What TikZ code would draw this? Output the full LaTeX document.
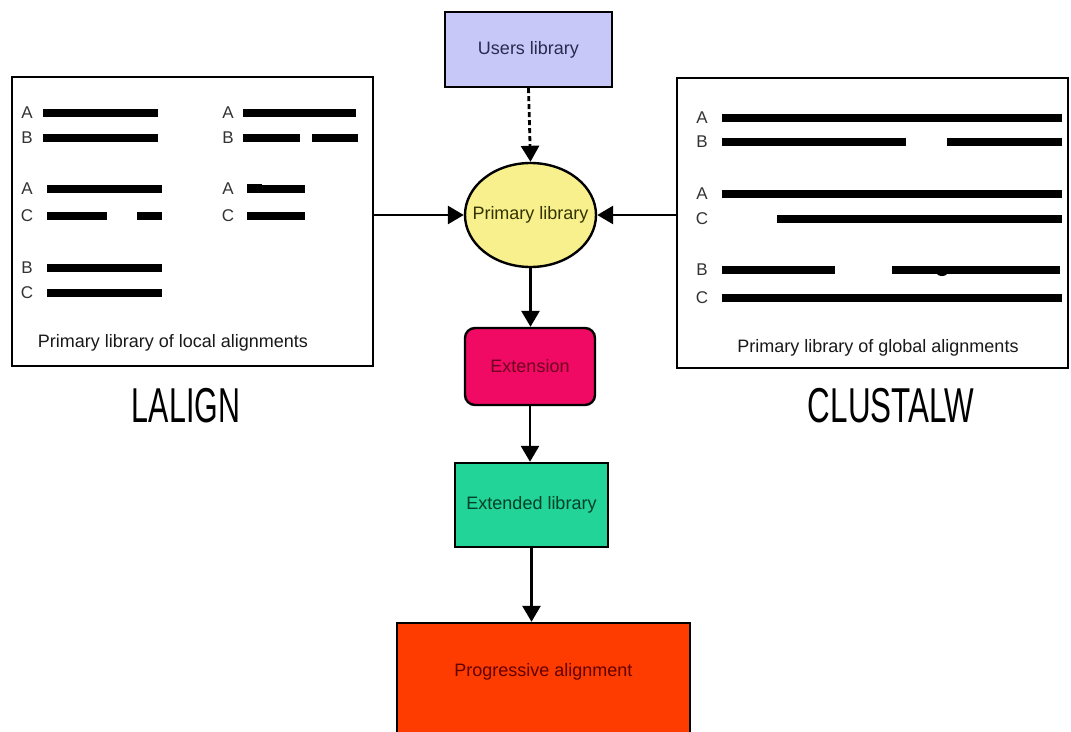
\documentclass[tikz,border=0pt]{standalone}
\usepackage{fontspec}
\setmainfont{Liberation Sans}
\usetikzlibrary{shapes.geometric,arrows.meta}

\definecolor{usersfill}{HTML}{C8C8F8}
\definecolor{usersink}{HTML}{2A2A50}
\definecolor{primfill}{HTML}{F8F08C}
\definecolor{primink}{HTML}{333300}
\definecolor{extnfill}{HTML}{F00A64}
\definecolor{extnink}{HTML}{700020}
\definecolor{extdfill}{HTML}{22D498}
\definecolor{extdink}{HTML}{004028}
\definecolor{progfill}{HTML}{FF3C00}
\definecolor{progink}{HTML}{600000}

\tikzset{
  box/.style={draw, line width=2.4pt, inner sep=0pt},
  arr/.style={line width=2.8pt, -{Triangle[width=18pt,length=16pt]}},
  bar/.style={line width=8pt},
  lbl/.style={font=\fontsize{18}{20}\selectfont, inner sep=0pt},
  seq/.style={font=\fontsize{17}{19}\selectfont, text=black!80, inner sep=0pt},
  big/.style={font=\fontsize{49}{55}\selectfont, inner sep=0pt},
}

\begin{document}
\begin{tikzpicture}[x=1pt,y=-1pt]
\clip (0,0) rectangle (1071,731);
\fill[white] (0,0) rectangle (1071,731);

% flow nodes
\node[box, fill=usersfill, minimum width=167pt, minimum height=75pt,
      text=usersink, lbl] (users) at (528.5,49.5) {Users library};
\node[box, ellipse, fill=primfill, minimum width=131pt, minimum height=104pt,
      label={[lbl, text=primink]center:Primary library}] (prim) at (530.5,215) {};
\node[box, fill=extnfill, rounded corners=10pt, minimum width=130pt,
      minimum height=77pt, text=extnink, lbl] (extn) at (530,366.5) {Extension};
\node[box, fill=extdfill, minimum width=153pt, minimum height=84pt,
      text=extdink, lbl] (extd) at (531.5,505) {Extended library};
\node[box, fill=progfill, minimum width=293pt, minimum height=130pt] (prog) at (543.5,688) {};
\node[lbl, text=progink] (progtxt) at ([yshift=-50pt]prog.north) {Progressive alignment};

% alignment libraries
\node[box, minimum width=361pt, minimum height=289pt] (lbox) at (192.5,221.5) {};
\node[box, minimum width=391pt, minimum height=290pt] (rbox) at (872.5,223) {};

% local alignments (left)
\foreach \y/\t in {113/A,138/B,189/A,216/C,268/B,293/C}
  \node[seq] (l\y) at (27,\y) {\t};
\foreach \y/\t in {113/A,138/B,189/A,216/C}
  \node[seq] (m\y) at (228,\y) {\t};
\draw[bar] (43,113) -- (158,113);
\draw[bar] (43,138) -- (158,138);
\draw[bar] (47,189) -- (162,189);
\draw[bar] (47,216) -- (107,216);
\draw[bar] (137,216) -- (162,216);
\draw[bar] (47,268) -- (162,268);
\draw[bar] (47,293) -- (162,293);
\draw[bar] (243,113) -- (356,113);
\draw[bar] (243,138) -- (300,138);
\draw[bar] (312,138) -- (358,138);
\draw[bar] (247,189) -- (305,189);
\fill (247,184) rectangle (262,190);
\draw[bar] (247,216) -- (305,216);
\node[lbl, text=black!90] (lcap) at (173,343) {Primary library of local alignments};

% global alignments (right)
\foreach \y/\t in {118/A,142/B,194/A,219/C,270/B,298/C}
  \node[seq] (r\y) at (702,\y) {\t};
\draw[bar] (722,118) -- (1062,118);
\draw[bar] (722,142) -- (906,142);
\draw[bar] (947,142) -- (1062,142);
\draw[bar] (722,194) -- (1062,194);
\draw[bar] (777,219) -- (1062,219);
\draw[bar] (722,270) -- (835,270);
\draw[bar] (892,270) -- (1060,270);
\fill (942,272) ellipse (6pt and 4pt);
\draw[bar] (722,298) -- (1062,298);
\node[lbl, text=black!90] (rcap) at (878,348) {Primary library of global alignments};

% program names
\node[big] (lalign) at (186,406) {\scalebox{0.62}[1]{LALIGN}};
\node[big] (clustal) at (891,406) {\scalebox{0.64}[1]{CLUSTALW}};

% connectors
\draw[arr, dash pattern=on 5pt off 3pt] (users.south) -- (prim.north);
\draw[arr] (lbox.east |- prim.west) -- (prim.west);
\draw[arr] (rbox.west |- prim.east) -- (prim.east);
\draw[arr] (prim.south) -- (prim.south |- extn.north);
\draw[arr] (extn.south) -- (extn.south |- extd.north);
\draw[arr] (extd.south) -- (extd.south |- prog.north);
\end{tikzpicture}
\end{document}
